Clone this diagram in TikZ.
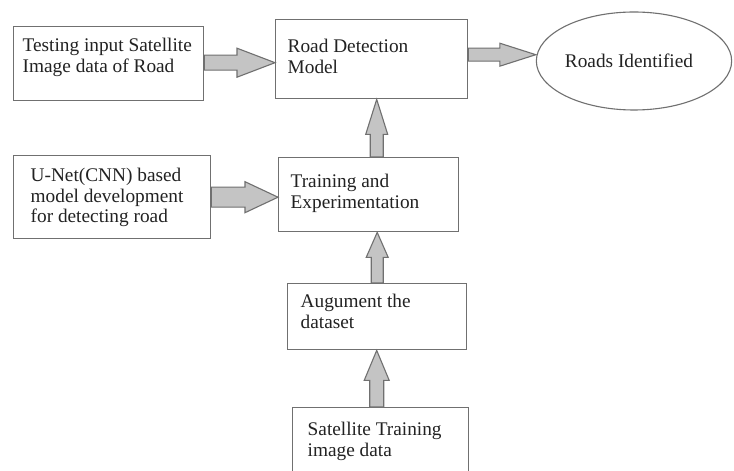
\documentclass[tikz,border=0pt]{standalone}
\usepackage{fontspec}
\setmainfont{Liberation Serif}
\usetikzlibrary{calc,shapes.geometric}

% Box content: width, height, left padding, first baseline depth, text
\newcommand\boxtxt[5]{\parbox[c][#2][t]{#1}{\raggedright\leftskip=#3\relax\rule{0pt}{#4}#5}}

% Block arrow from #1 to #2: shaft half width #3, head half width #4, head length #5
\newcommand\blockarrow[5]{%
  \coordinate (ba-s) at (#1);
  \coordinate (ba-e) at (#2);
  \coordinate (ba-h) at ($(ba-e)!#5!(ba-s)$);
  \draw[blockarr]
    ($(ba-s)!#3!90:(ba-e)$) -- ($(ba-h)!#3!90:(ba-e)$) --
    ($(ba-h)!#4!90:(ba-e)$) -- (ba-e) --
    ($(ba-h)!#4!-90:(ba-e)$) -- ($(ba-h)!#3!-90:(ba-e)$) --
    ($(ba-s)!#3!-90:(ba-e)$) -- cycle;
}

\definecolor{edgegray}{HTML}{707070}
\definecolor{arrfill}{HTML}{C4C4C4}
\definecolor{inkgray}{HTML}{222222}

\tikzset{
  box/.style={draw=edgegray, line width=1.4bp, fill=white, inner sep=0pt, anchor=north west, text=inkgray},
  oval/.style={ellipse, draw=edgegray, line width=1.1bp, minimum width=193bp, minimum height=98bp, inner sep=0pt, text=inkgray},
  blockarr/.style={draw=edgegray, line width=1.1bp, fill=arrfill, line join=miter},
}

\begin{document}
\begin{tikzpicture}[x=1bp, y=-1bp, font=\fontsize{19.3bp}{20.5bp}\selectfont]
\clip (0,0) rectangle (734,471);
\fill[white] (0,0) rectangle (734,471);

% process boxes
\node[box] (b1) at (13,26)   {\boxtxt{190bp}{74bp}{9bp}{25bp}{Testing input Satellite\\Image data of Road}};
\node[box] (b2) at (275,19)  {\boxtxt{192bp}{79bp}{12bp}{33bp}{Road Detection\\Model}};
\node[box] (b3) at (13,155)  {\boxtxt{197bp}{83bp}{17bp}{26bp}{U-Net(CNN) based\\model development\\for detecting road}};
\node[box] (b4) at (278,157) {\boxtxt{180bp}{74bp}{12bp}{30bp}{Training and\\Experimentation}};
\node[box] (b5) at (287,283) {\boxtxt{179bp}{66bp}{13bp}{24bp}{Augument the\\dataset}};
\node[box] (b6) at (292,407) {\boxtxt{176bp}{80bp}{15bp}{28bp}{Satellite Training\\image data}};

% result
\node[oval] (ell) at (634,61) {Roads Identified\kern10bp};

% horizontal block arrows
\coordinate (a1) at ($(b1.east)+(0,-1)$);
\blockarrow{a1}{a1 -| b2.west}{7.5bp}{14.5bp}{38bp}
\coordinate (a2) at ($(b2.east)+(0,-4.5)$);
\blockarrow{a2}{a2 -| ell.west}{6.5bp}{11.5bp}{36bp}
\coordinate (a3) at (b3.east);
\blockarrow{a3}{a3 -| b4.west}{10bp}{15.5bp}{33bp}

% vertical block arrows
\coordinate (a4) at ($(b4.north)+(8,0)$);
\blockarrow{a4}{a4 |- b2.south}{6.5bp}{11bp}{35bp}
\coordinate (a5) at (b5.north);
\blockarrow{a5}{a5 |- b4.south}{6bp}{11bp}{25bp}
\coordinate (a6) at ($(b6.north)+(-4,0)$);
\blockarrow{a6}{a6 |- b5.south}{7bp}{12.5bp}{30bp}
\end{tikzpicture}
\end{document}
